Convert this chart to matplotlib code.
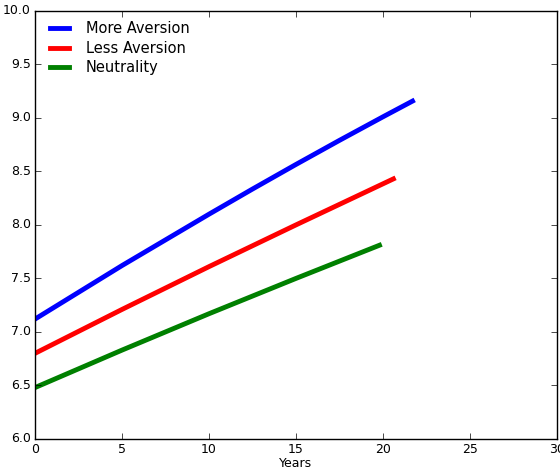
import matplotlib
matplotlib.use("Agg")
import matplotlib.pyplot as plt

plt.style.use('classic')

# values
years_more = [0, 2.5, 5, 7.5, 10, 12.5, 15, 17.5, 20, 21.7]
more_aversion = [7.12, 7.37, 7.62, 7.86, 8.10, 8.335, 8.565, 8.79, 9.01, 9.157]

years_less = [0, 5, 10, 15, 20.6]
less_aversion = [6.80, 7.21, 7.61, 8.00, 8.43]

years_neutral = [0, 5, 10, 15, 19.8]
neutrality = [6.48, 6.83, 7.17, 7.50, 7.81]

fig = plt.figure(figsize=(5.6, 4.73), dpi=100, facecolor='white')
ax = fig.add_axes([0.0625, 0.072, 0.932, 0.905])

ax.plot(years_more, more_aversion, color='blue', linewidth=3.5, label='More Aversion')
ax.plot(years_less, less_aversion, color='red', linewidth=3.5, label='Less Aversion')
ax.plot(years_neutral, neutrality, color='green', linewidth=3.5, label='Neutrality')

ax.set_xlim(0, 30)
ax.set_ylim(6.0, 10.0)
ax.set_xticks([0, 5, 10, 15, 20, 25, 30])
ax.set_yticks([6.0, 6.5, 7.0, 7.5, 8.0, 8.5, 9.0, 9.5, 10.0])
ax.set_yticklabels(['6.0', '6.5', '7.0', '7.5', '8.0', '8.5', '9.0', '9.5', '10.0'])
ax.tick_params(labelsize=9, pad=3)
ax.set_xlabel('Years', fontsize=9, labelpad=1)

ax.legend(loc='upper left', frameon=False, fontsize=10.5, handlelength=1.9,
          handletextpad=0.9, borderaxespad=0.3, labelspacing=0.32)

fig.savefig('out.png', dpi=100, facecolor='white')
